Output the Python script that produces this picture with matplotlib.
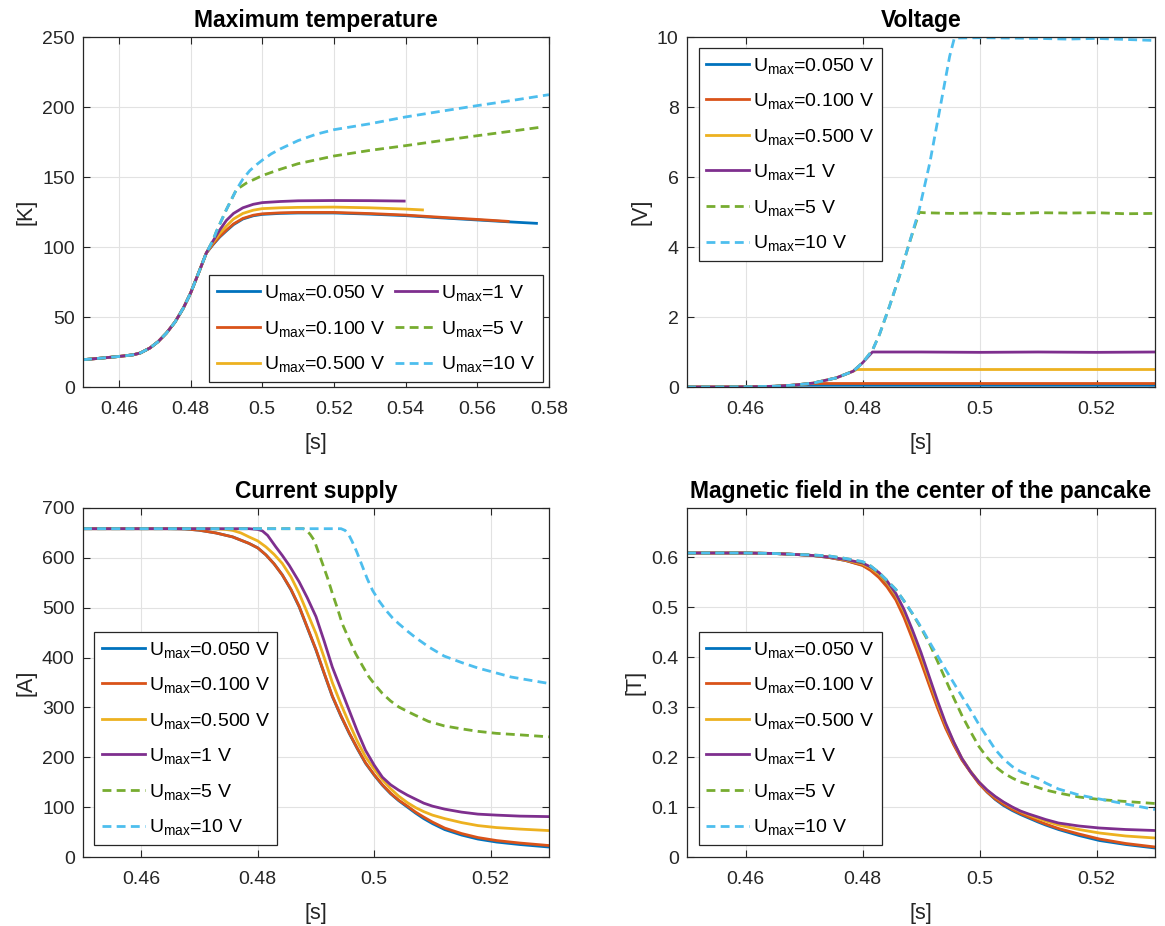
import matplotlib
matplotlib.use("Agg")
import matplotlib.pyplot as plt
from matplotlib.ticker import FuncFormatter

plt.rcParams['font.family'] = ['Liberation Sans', 'DejaVu Sans']
plt.rcParams['mathtext.fontset'] = 'custom'
plt.rcParams['mathtext.rm'] = 'Liberation Sans'
plt.rcParams['mathtext.it'] = 'Liberation Sans:italic'
plt.rcParams['mathtext.bf'] = 'Liberation Sans:bold'

# ---- series definitions -------------------------------------------------
labels = ['0.050 V', '0.100 V', '0.500 V', '1 V', '5 V', '10 V']
colors = ['#0072BD', '#D95319', '#EDB120', '#7E2F8E', '#77AC30', '#4DBEEE']
styles = ['-', '-', '-', '-', '--', '--']

# ---- Maximum temperature [K] --------------------------------------------
t_rise = [0.450, 0.455, 0.460, 0.464, 0.466, 0.4687, 0.4710, 0.4733, 0.4757, 0.478, 0.480, 0.4826, 0.4844]
T_rise = [19.5, 20.6, 21.8, 23.0, 24.3, 27.9, 32.5, 38.6, 46.5, 56.4, 67.0, 83.8, 95.7]

t_T_050 = [0.4862, 0.4881, 0.490, 0.492, 0.4946, 0.4975, 0.500, 0.505, 0.510, 0.520, 0.530, 0.540, 0.550,
           0.560, 0.5686, 0.5765]
T_050 = [101.5, 107.0, 111.5, 116.0, 120.0, 122.3, 123.3, 124.0, 124.3, 124.3, 123.5, 122.4, 120.8,
         119.3, 118.0, 116.9]
t_T_100 = [0.4862, 0.4881, 0.490, 0.492, 0.4946, 0.4975, 0.500, 0.505, 0.510, 0.520, 0.530, 0.540, 0.550,
           0.560, 0.5686]
T_100 = [101.8, 107.4, 112.0, 116.5, 120.4, 122.7, 123.7, 124.4, 124.7, 124.7, 123.9, 122.8, 121.2,
         119.7, 118.3]
t_T_500 = [0.4862, 0.4881, 0.490, 0.492, 0.4946, 0.4975, 0.500, 0.505, 0.510, 0.520, 0.530, 0.540, 0.5447]
T_500 = [103.0, 109.5, 115.0, 120.0, 124.0, 126.3, 127.4, 128.0, 128.3, 128.5, 128.0, 127.1, 126.5]
t_T_1 = [0.4862, 0.4881, 0.490, 0.492, 0.4946, 0.4975, 0.500, 0.505, 0.510, 0.520, 0.530, 0.5396]
T_1 = [104.0, 112.0, 119.0, 124.0, 128.0, 130.5, 131.7, 132.5, 133.0, 133.2, 133.1, 132.8]
t_T_5 = [0.4863, 0.4872, 0.490, 0.4928, 0.4956, 0.500, 0.505, 0.510, 0.520, 0.530, 0.540, 0.550, 0.560,
         0.570, 0.5775]
T_5 = [105.0, 111.0, 126.7, 141.0, 145.7, 151.0, 155.5, 159.5, 165.0, 169.0, 172.4, 176.0, 179.5,
       182.9, 185.5]
t_T_10 = [0.4863, 0.4872, 0.490, 0.4928, 0.4946, 0.4965, 0.4985, 0.500, 0.5025, 0.505, 0.510, 0.515, 0.520,
          0.530, 0.540, 0.550, 0.560, 0.570, 0.580]
T_10 = [105.0, 111.0, 126.7, 141.0, 148.5, 154.5, 159.0, 162.0, 166.5, 170.0, 176.0, 180.5, 183.8,
        188.0, 192.9, 197.0, 201.0, 204.8, 208.8]

# ---- Voltage [V] ----------------------------------------------------------
t_V_050 = [0.450, 0.455, 0.460, 0.465, 0.468, 0.530]
V_050 = [0.0, 0.0, 0.005, 0.02, 0.05, 0.05]
t_V_100 = [0.450, 0.455, 0.460, 0.465, 0.468, 0.4715, 0.530]
V_100 = [0.0, 0.0, 0.005, 0.02, 0.05, 0.10, 0.10]
t_V_500 = [0.450, 0.455, 0.460, 0.465, 0.468, 0.4715, 0.4755, 0.4784, 0.4790, 0.530]
V_500 = [0.0, 0.0, 0.005, 0.02, 0.05, 0.11, 0.26, 0.45, 0.50, 0.50]
t_V_1 = [0.450, 0.455, 0.460, 0.465, 0.468, 0.4715, 0.4755, 0.4784, 0.480, 0.4817, 0.490, 0.500, 0.510,
         0.520, 0.530]
V_1 = [0.0, 0.0, 0.005, 0.02, 0.05, 0.11, 0.26, 0.45, 0.69, 1.0, 1.0, 0.99, 1.0, 0.99, 1.0]
t_V_5 = [0.450, 0.455, 0.460, 0.465, 0.468, 0.4715, 0.4755, 0.4784, 0.480, 0.4817, 0.4829, 0.4846, 0.4863,
         0.4880, 0.4897, 0.4905, 0.495, 0.500, 0.505, 0.510, 0.515, 0.520, 0.525, 0.530]
V_5 = [0.0, 0.0, 0.005, 0.02, 0.05, 0.11, 0.26, 0.45, 0.69, 1.05, 1.50, 2.30, 3.16,
       4.11, 4.99, 4.98, 4.96, 4.97, 4.95, 4.98, 4.97, 4.98, 4.95, 4.96]
t_V_10 = [0.450, 0.455, 0.460, 0.465, 0.468, 0.4715, 0.4755, 0.4784, 0.480, 0.4817, 0.4829, 0.4846, 0.4863,
          0.4880, 0.4897, 0.4915, 0.4932, 0.4949, 0.4957, 0.500, 0.505, 0.510, 0.515, 0.520, 0.525, 0.530]
V_10 = [0.0, 0.0, 0.005, 0.02, 0.05, 0.11, 0.26, 0.45, 0.69, 1.05, 1.50, 2.30, 3.16,
        4.11, 5.07, 6.40, 7.92, 9.45, 9.97, 9.98, 9.97, 9.96, 9.94, 9.96, 9.93, 9.90]

# ---- Current supply [A] --------------------------------------------------
t_I_050 = [0.450, 0.465, 0.4675, 0.4699, 0.4728, 0.4757, 0.4785, 0.480, 0.4814, 0.4828, 0.4842, 0.4857,
           0.4871, 0.4885, 0.490, 0.4914, 0.4928, 0.4943, 0.4957, 0.4971, 0.4985, 0.500, 0.5014, 0.5028,
           0.5042, 0.5057, 0.5071, 0.5085, 0.510, 0.5121, 0.515, 0.5178, 0.521, 0.525, 0.530]
I_050 = [658.5, 658.5, 658, 655.5, 650, 642, 629, 620, 606, 588, 566, 536,
         502, 460, 415, 368, 322, 282, 248, 217, 188, 164, 144, 127,
         113, 100, 88, 77, 67, 55, 44, 36, 30, 25, 20]
t_I_100 = t_I_050
I_100 = [658.5, 658.5, 658, 655.5, 650, 642, 629, 620, 606, 588, 566, 537,
         503, 461, 416, 369, 323, 283, 249, 218, 189, 165, 145, 128,
         114, 102, 90, 80, 70, 58, 47, 39, 33, 28, 23]
t_I_500 = [0.450, 0.472, 0.4745, 0.4757, 0.4771, 0.4785, 0.480, 0.4814, 0.4828, 0.4842, 0.4857, 0.4871,
           0.4885, 0.490, 0.4914, 0.4928, 0.4943, 0.4957, 0.4971, 0.4985, 0.500, 0.5014, 0.5028, 0.5042,
           0.5057, 0.5071, 0.5085, 0.510, 0.5121, 0.515, 0.5178, 0.521, 0.525, 0.530]
I_500 = [658.5, 658.5, 657, 655, 650, 642, 634, 622, 607, 589, 562, 529,
         490, 448, 400, 350, 306, 268, 232, 201, 176, 155, 137, 122,
         109, 99, 91, 84, 77, 69, 63, 59, 56, 53]
t_I_1 = [0.450, 0.4785, 0.480, 0.4808, 0.4817, 0.4831, 0.4842, 0.4854, 0.4871, 0.4885, 0.490, 0.4914,
         0.4928, 0.4943, 0.4957, 0.4971, 0.4985, 0.500, 0.5014, 0.5028, 0.5042, 0.5057, 0.5071, 0.5085,
         0.510, 0.5121, 0.515, 0.5178, 0.521, 0.525, 0.530]
I_1 = [658.5, 658.5, 657, 654, 645, 622, 605, 585, 552, 520, 482, 433,
       381, 336, 294, 252, 214, 184, 160, 145, 134, 124, 116, 108,
       102, 96, 90, 86, 84, 82, 81]
t_I_5 = [0.450, 0.4878, 0.4884, 0.4890, 0.4897, 0.4904, 0.4911, 0.4920, 0.4928, 0.4937, 0.4945, 0.4957,
         0.4968, 0.4980, 0.4991, 0.5003, 0.5014, 0.5028, 0.5042, 0.5057, 0.5071, 0.5093, 0.512, 0.515,
         0.5178, 0.521, 0.525, 0.530]
I_5 = [658.5, 658.5, 655, 647, 635, 612, 589, 559, 529, 498, 468, 436,
       408, 383, 361, 343, 328, 313, 301, 292, 284, 272, 263, 257,
       252, 248, 245, 241]
t_I_10 = [0.450, 0.4943, 0.4950, 0.4956, 0.4962, 0.4970, 0.4980, 0.4988, 0.4997, 0.5008, 0.502, 0.5031,
          0.5042, 0.5057, 0.5071, 0.5094, 0.512, 0.515, 0.5178, 0.521, 0.5235, 0.527, 0.530]
I_10 = [658.5, 658.5, 655, 647, 633, 612, 582, 558, 535, 514, 495, 480,
        468, 453, 440, 421, 403, 390, 379, 369, 361, 354, 348]

# ---- Magnetic field [T] --------------------------------------------------
t_B = [0.450, 0.460, 0.465, 0.4687, 0.4715, 0.4743, 0.4771, 0.480, 0.4814, 0.4828, 0.4842, 0.4857,
       0.4871, 0.4885, 0.490, 0.4914, 0.4928, 0.4942, 0.4956, 0.497, 0.4985, 0.4999, 0.5013, 0.5027,
       0.5041, 0.5056, 0.507, 0.5084, 0.510, 0.5113, 0.5135, 0.517, 0.5205, 0.525, 0.530]
B_050 = [.608, .608, .607, .605, .603, .599, .593, .584, .575, .562, .544, .518,
         .484, .442, .395, .348, .302, .261, .226, .195, .170, .148, .130, .115,
         .103, .093, .085, .078, .070, .064, .055, .043, .033, .025, .018]
B_100 = [.608, .608, .607, .605, .603, .599, .593, .583, .573, .559, .540, .514,
         .479, .437, .390, .344, .299, .258, .224, .194, .169, .147, .130, .116,
         .105, .095, .087, .080, .072, .066, .057, .046, .036, .027, .020]
B_500 = [.608, .608, .607, .605, .603, .600, .594, .586, .578, .566, .549, .524,
         .491, .450, .403, .355, .308, .265, .229, .197, .171, .150, .133, .120,
         .109, .099, .091, .084, .077, .072, .064, .055, .048, .042, .038]
B_1 = [.608, .608, .607, .605, .603, .600, .595, .588, .580, .569, .552, .527,
       .495, .455, .409, .361, .313, .268, .230, .197, .170, .150, .134, .121,
       .110, .100, .092, .086, .080, .075, .068, .062, .058, .055, .053]
B_5 = [.608, .608, .607, .605, .604, .602, .597, .590, .582, .569, .553, .535,
       .512, .487, .458, .428, .392, .355, .318, .283, .250, .221, .199, .181,
       .168, .158, .150, .145, .139, .134, .128, .120, .115, .111, .107]
B_10 = [.608, .608, .607, .605, .604, .602, .597, .591, .582, .569, .553, .535,
        .512, .488, .460, .431, .403, .375, .348, .321, .293, .265, .240, .215,
        .196, .181, .171, .164, .157, .148, .136, .124, .116, .106, .095]

temp_series = [(t_rise + t_T_050, T_rise + T_050), (t_rise + t_T_100, T_rise + T_100),
               (t_rise + t_T_500, T_rise + T_500), (t_rise + t_T_1, T_rise + T_1),
               (t_rise + t_T_5, T_rise + T_5), (t_rise + t_T_10, T_rise + T_10)]
volt_series = [(t_V_050, V_050), (t_V_100, V_100), (t_V_500, V_500),
               (t_V_1, V_1), (t_V_5, V_5), (t_V_10, V_10)]
curr_series = [(t_I_050, I_050), (t_I_100, I_100), (t_I_500, I_500),
               (t_I_1, I_1), (t_I_5, I_5), (t_I_10, I_10)]
field_series = [(t_B, B_050), (t_B, B_100), (t_B, B_500),
                (t_B, B_1), (t_B, B_5), (t_B, B_10)]

# ---- figure ------------------------------------------------------------
W, H = 1165, 926
fig = plt.figure(figsize=(W / 100, H / 100), dpi=100)


def px_axes(x0, y0, x1, y1):
    return fig.add_axes([x0 / W, 1 - y1 / H, (x1 - x0) / W, (y1 - y0) / H])


TXT = '#262626'
fmt = FuncFormatter(lambda v, p: '%g' % round(v, 4))


def draw(ax, series, title, ylabel, xlim, ylim, yticks, xticks, leg_kw):
    for (t, v), c, ls, lab in zip(series, colors, styles, labels):
        kw = dict(color=c, lw=2.0, label=r'U$_{\mathrm{max}}$=' + lab,
                  solid_joinstyle='round', dash_joinstyle='round')
        if ls == '--':
            kw['dashes'] = (3.2, 1.9)
        ax.plot(t, v, **kw)
    ax.set_xlim(*xlim)
    ax.set_ylim(*ylim)
    ax.set_xticks(xticks)
    ax.set_yticks(yticks)
    ax.xaxis.set_major_formatter(fmt)
    ax.yaxis.set_major_formatter(fmt)
    ax.grid(True, color='#e2e2e2', lw=0.8)
    ax.set_axisbelow(True)
    ax.tick_params(direction='in', top=True, right=True, length=5, width=0.8,
                   labelsize=14, colors=TXT)
    ax.tick_params(axis='x', pad=10)
    ax.tick_params(axis='y', pad=6)
    for s in ax.spines.values():
        s.set_color(TXT)
        s.set_linewidth(0.9)
    ax.set_title(title, fontsize=16.5, fontweight='bold', color='black', pad=7)
    ax.set_xlabel('[s]', fontsize=15.5, color=TXT, labelpad=11)
    ax.set_ylabel(ylabel, fontsize=15.5, color=TXT, labelpad=4)
    leg = ax.legend(fontsize=14, fancybox=False, framealpha=1, edgecolor=TXT,
                    handlelength=2.2, handletextpad=0.2, labelspacing=0.8,
                    borderpad=0.4, borderaxespad=0, **leg_kw)
    leg.get_frame().set_linewidth(0.9)
    return ax


ax1 = px_axes(83, 37, 549, 387)
draw(ax1, temp_series, 'Maximum temperature', '[K]', (0.45, 0.58), (0, 250),
     range(0, 251, 50), [0.46, 0.48, 0.50, 0.52, 0.54, 0.56, 0.58],
     dict(ncol=2, columnspacing=0.5, loc='lower right', bbox_to_anchor=(0.987, 0.014)))

ax2 = px_axes(687, 37, 1155, 387)
draw(ax2, volt_series, 'Voltage', '[V]', (0.45, 0.53), (0, 10),
     range(0, 11, 2), [0.46, 0.48, 0.50, 0.52],
     dict(loc='upper left', bbox_to_anchor=(0.025, 0.969)))

ax3 = px_axes(83, 508, 549, 857)
draw(ax3, curr_series, 'Current supply', '[A]', (0.45, 0.53), (0, 700),
     range(0, 701, 100), [0.46, 0.48, 0.50, 0.52],
     dict(loc='lower left', bbox_to_anchor=(0.024, 0.034)))

ax4 = px_axes(687, 508, 1155, 857)
draw(ax4, field_series, 'Magnetic field in the center of the pancake', '[T]', (0.45, 0.53), (0, 0.698),
     [0, 0.1, 0.2, 0.3, 0.4, 0.5, 0.6], [0.46, 0.48, 0.50, 0.52],
     dict(loc='lower left', bbox_to_anchor=(0.025, 0.034)))

fig.savefig('out.png', dpi=100, facecolor='white')
